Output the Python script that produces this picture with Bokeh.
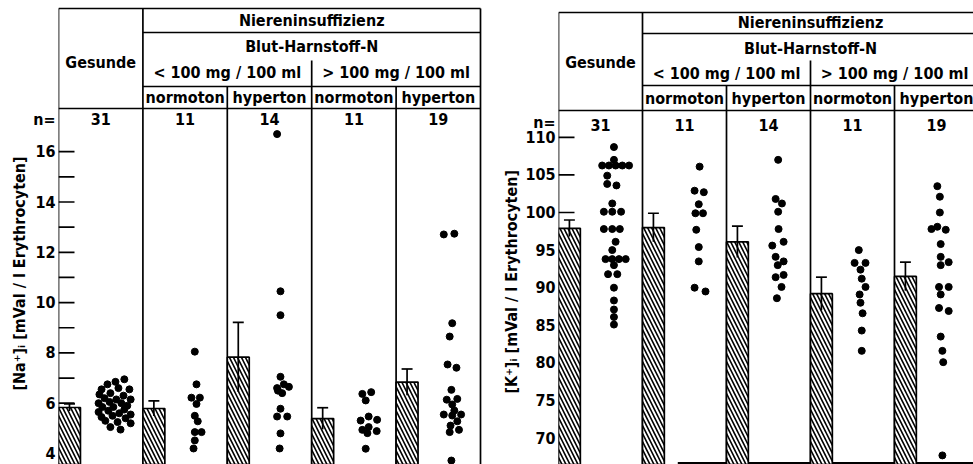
import numpy as np
from bokeh.plotting import figure
from bokeh.models import FixedTicker, Range1d, Title
from bokeh.layouts import row
from bokeh.core.properties import value
from bokeh.embed import file_html
from bokeh.resources import INLINE

# ---------------- data ----------------
groups = ["Gesunde", "normoton <100", "hyperton <100", "normoton >100", "hyperton >100"]
n_counts = ["31", "11", "14", "11", "19"]

na_ticks = [4, 6, 8, 10, 12, 14, 16]
na_minor = [5, 7, 9, 11, 13, 15]
k_ticks = [70, 75, 80, 85, 90, 95, 100, 105, 110]

na_mean = [5.83, 5.79, 7.83, 5.39, 6.84]
na_se = [0.14, 0.30, 1.38, 0.43, 0.52]
k_mean = [97.9, 98.0, 96.1, 89.2, 91.5]
k_se = [1.1, 1.9, 2.1, 2.2, 1.9]

# single values (value, x-offset inside the column)
na_g0_val = [6.95, 6.85, 6.75, 6.55, 6.6, 6.55, 6.35, 6.4, 6.3, 6.2, 6.15, 6.15, 6.0, 6.05, 6.0, 5.9,
             5.85, 5.85, 5.75, 5.65, 5.7, 5.6, 5.55, 5.45, 5.5, 5.4, 5.3, 5.25, 5.2, 5.05, 4.95]
na_g0_off = [0.78, 0.675, 0.58, 0.51, 0.71, 0.84, 0.485, 0.615, 0.77, 0.545, 0.685, 0.855, 0.475, 0.605, 0.745, 0.815,
             0.52, 0.65, 0.78, 0.475, 0.59, 0.72, 0.855, 0.51, 0.64, 0.795, 0.555, 0.70, 0.855, 0.615, 0.735]
na_g1_val = [8.05, 6.75, 6.22, 6.22, 5.97, 5.5, 5.28, 4.85, 4.85, 4.52, 4.2]
na_g1_off = [0.615, 0.635, 0.575, 0.675, 0.635, 0.615, 0.65, 0.615, 0.695, 0.615, 0.60]
na_g2_val = [16.7, 10.45, 9.5, 7.05, 6.6, 6.75, 6.65, 6.4, 6.5, 5.78, 5.47, 5.47, 4.8, 4.2]
na_g2_off = [0.59, 0.63, 0.63, 0.63, 0.59, 0.67, 0.73, 0.65, 0.60, 0.63, 0.59, 0.71, 0.63, 0.62]
na_g3_val = [6.37, 6.44, 6.11, 5.31, 5.47, 5.34, 4.94, 5.05, 4.81, 4.89, 4.19]
na_g3_off = [0.60, 0.705, 0.64, 0.58, 0.675, 0.775, 0.60, 0.675, 0.66, 0.77, 0.64]
na_g4_val = [12.71, 12.74, 9.18, 8.65, 7.54, 7.41, 6.53, 6.14, 6.17, 5.95, 5.71, 5.55, 5.51, 5.55, 5.28, 5.11,
             4.94, 4.85, 3.72]
na_g4_off = [0.565, 0.69, 0.665, 0.635, 0.61, 0.715, 0.655, 0.60, 0.725, 0.665, 0.69, 0.565, 0.665, 0.77, 0.725, 0.645,
             0.745, 0.635, 0.655]

k_g0_val = [108.7, 107.0, 106.25, 106.25, 106.25, 106.25, 106.25, 104.9, 103.8, 103.6, 101.2, 100.1, 100.1, 100.1,
            97.8, 97.8, 97.8, 96.1, 95.0, 93.8, 93.8, 93.8, 93.8, 93.0, 91.8, 91.8, 90.0, 88.3, 87.1, 86.1, 85.1]
k_g0_off = [0.66, 0.66, 0.52, 0.60, 0.68, 0.76, 0.84, 0.58, 0.58, 0.69, 0.64, 0.54, 0.64, 0.745,
            0.54, 0.64, 0.73, 0.68, 0.64, 0.56, 0.64, 0.72, 0.80, 0.66, 0.59, 0.70, 0.66, 0.66, 0.66, 0.66, 0.66]
k_g1_val = [106.1, 102.9, 102.7, 101.1, 99.9, 99.9, 97.7, 95.4, 93.5, 90.0, 89.5]
k_g1_off = [0.68, 0.62, 0.73, 0.67, 0.63, 0.72, 0.64, 0.67, 0.67, 0.62, 0.75]
k_g2_val = [107.0, 101.8, 101.2, 100.1, 97.8, 96.1, 95.6, 94.1, 93.5, 93.0, 91.7, 91.4, 90.1, 88.6]
k_g2_off = [0.615, 0.585, 0.66, 0.615, 0.62, 0.68, 0.545, 0.585, 0.68, 0.61, 0.68, 0.585, 0.655, 0.60]
k_g3_val = [95.0, 93.3, 93.3, 92.4, 91.2, 90.1, 89.1, 88.0, 86.6, 84.3, 81.6]
k_g3_off = [0.575, 0.525, 0.655, 0.595, 0.61, 0.655, 0.585, 0.595, 0.62, 0.61, 0.61]
k_g4_val = [103.5, 102.1, 100.0, 97.8, 98.1, 97.7, 95.8, 94.1, 93.4, 93.0, 90.1, 90.1, 89.1, 87.3, 86.9, 83.5,
            81.6, 80.1, 67.7]
k_g4_off = [0.51, 0.54, 0.54, 0.44, 0.51, 0.61, 0.55, 0.55, 0.645, 0.55, 0.53, 0.645, 0.55, 0.53, 0.645, 0.55,
            0.57, 0.58, 0.57]

na_vals = [na_g0_val, na_g1_val, na_g2_val, na_g3_val, na_g4_val]
na_offs = [na_g0_off, na_g1_off, na_g2_off, na_g3_off, na_g4_off]
k_vals = [k_g0_val, k_g1_val, k_g2_val, k_g3_val, k_g4_val]
k_offs = [k_g0_off, k_g1_off, k_g2_off, k_g3_off, k_g4_off]

FONT = "'DejaVu Sans Condensed', 'DejaVu Sans'"
FONT_V = value(FONT)
FSTYLE = "bold"
FSIZE = "16px"
LW = 1.7


def make_panel(width, border_left, colw, ref_px, ref_val, px_per_unit, hdr, ticks, minor, n_pos,
               means, ses, vals, offs, ylabel, ylabel_offset, show_right_edge, base_from):
    H = 464
    frame_w = width - border_left
    xr_end = frame_w / colw

    def val(py):  # window pixel -> data value
        return ref_val + (ref_px - py) / px_per_unit

    p = figure(width=width, height=H, output_backend="svg", toolbar_location=None,
               x_range=Range1d(0, xr_end), y_range=Range1d(val(H), val(0)),
               min_border_left=border_left, min_border_right=0, min_border_top=0,
               min_border_bottom=0, background_fill_color="white", border_fill_color="white",
               outline_line_color=None)
    p.xaxis.visible = False
    p.xgrid.visible = False
    p.ygrid.visible = False
    ax = p.yaxis[0]
    ax.ticker = FixedTicker(ticks=ticks + [n_pos], minor_ticks=[])
    ax.major_label_overrides = {n_pos: "n="}
    ax.axis_line_color = None
    ax.major_tick_in = 0
    ax.major_tick_out = 0
    ax.minor_tick_in = 0
    ax.minor_tick_out = 0
    ax.major_label_standoff = 3
    ax.major_label_text_font = FONT
    ax.major_label_text_font_style = FSTYLE
    ax.major_label_text_font_size = FSIZE
    ax.major_label_text_color = "black"

    # tick marks (inside)
    tk = ticks + minor
    tlen = 16 / colw
    p.segment(x0=[0] * len(tk), x1=[tlen] * len(tk), y0=tk, y1=tk, line_color="black", line_width=LW)

    bottom = val(H) - 5
    top_hdr = val(hdr["top"])
    x_edges = [0, 1] + ([5] if show_right_edge else [])
    p.segment(x0=x_edges, x1=x_edges, y0=[bottom] * len(x_edges), y1=[top_hdr] * len(x_edges),
              line_color="black", line_width=LW)
    p.segment(x0=[2, 4], x1=[2, 4], y0=[bottom] * 2, y1=[val(hdr["l2"])] * 2,
              line_color="black", line_width=LW)
    p.segment(x0=[3], x1=[3], y0=[bottom], y1=[val(hdr["div"])], line_color="black", line_width=LW)
    right_end = 5 if show_right_edge else 5.3
    p.segment(x0=[0, 1, 1, 0], x1=[right_end] * 4,
              y0=[top_hdr, val(hdr["l1"]), val(hdr["l2"]), val(hdr["l3"])],
              y1=[top_hdr, val(hdr["l1"]), val(hdr["l2"]), val(hdr["l3"])],
              line_color="black", line_width=LW)
    if base_from is not None:
        yb = val(H - 1.5)
        p.segment(x0=[base_from], x1=[5.3], y0=[yb], y1=[yb], line_color="black", line_width=2)

    # header texts
    tx = [3, 3, 2, 4, 0.5] + [i + 0.5 for i in range(1, 5)] + [i + 0.5 for i in range(5)]
    ty = [val(hdr["t_nier"]), val(hdr["t_blut"]), val(hdr["t_mg"]), val(hdr["t_mg"]), val(hdr["t_ges"])] + \
         [val(hdr["t_sub"])] * 4 + [val(hdr["t_n"])] * 5
    tt = ["Niereninsuffizienz", "Blut-Harnstoff-N", "< 100 mg / 100 ml", "> 100 mg / 100 ml", "Gesunde",
          "normoton", "hyperton", "normoton", "hyperton"] + n_counts
    p.text(x=tx, y=ty, text=tt, text_align="center", text_baseline="middle",
           text_font=FONT_V, text_font_style=FSTYLE, text_font_size=FSIZE, text_color="black")

    # bars
    cols = np.arange(5)
    bw = 0.26
    p.vbar(x=cols + bw / 2, width=bw, top=means, bottom=bottom, fill_color="white",
           line_color="black", line_width=LW, hatch_pattern="\\", hatch_color="black",
           hatch_scale=8, hatch_weight=1.6)
    m = np.array(means)
    s = np.array(ses)
    p.segment(x0=cols + bw / 2, x1=cols + bw / 2, y0=m - s, y1=m + s, line_color="black", line_width=LW)
    p.segment(x0=cols + bw / 2 - 0.065, x1=cols + bw / 2 + 0.065, y0=m + s, y1=m + s,
              line_color="black", line_width=LW)

    # single values
    dx, dy = [], []
    for i in range(5):
        dx += [i + o for o in offs[i]]
        dy += vals[i]
    p.scatter(x=dx, y=dy, size=7, fill_color="black", line_color="black")

    t = Title(text=ylabel, align="left", offset=ylabel_offset, text_font=FONT, text_font_size=FSIZE,
              text_font_style=FSTYLE, text_color="black", standoff=4)
    p.add_layout(t, "left")
    return p


hdr_left = dict(top=8, l1=32, l2=86, l3=108, div=60, t_nier=20, t_blut=46, t_mg=72, t_ges=62,
                t_sub=97, t_n=118)
hdr_right = dict(top=12, l1=33, l2=85, l3=110, div=60, t_nier=22, t_blut=48, t_mg=73, t_ges=62,
                 t_sub=98, t_n=124)

p1 = make_panel(487, 58, 84.4, 453, 4, 25.15, hdr_left, na_ticks, na_minor, 17.3,
                na_mean, na_se, na_vals, na_offs, "[Na⁺]ᵢ [mVal / l Erythrocyten]", 74, True, None)
p2 = make_panel(486, 71, 84.0, 212, 100, 7.52, hdr_right, k_ticks, [], 112.0,
                k_mean, k_se, k_vals, k_offs, "[K⁺]ᵢ [mVal / l Erythrocyten]", 71, False, 1.42)

layout = row(p1, p2, spacing=0)
open("out.html", "w").write(file_html(layout, INLINE))
